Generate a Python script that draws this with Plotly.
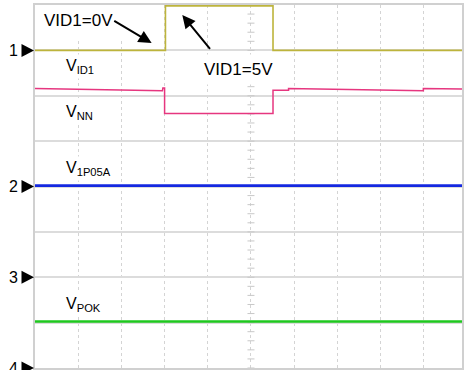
import plotly.graph_objects as go

# Screen units: 10 horizontal divisions, 8 vertical divisions (bottom = 0)
X_END = 9.885  # visible part of the 10-division screen
Y_DIVS = 8.0

# Channel reference markers (position in divisions)
channel_names = ["1", "2", "3", "4"]
channel_levels = [7.0, 4.0, 2.0, 0.0]

# VID1 control input (yellow)
vid_t = [0, 3.02, 3.02, 5.51, 5.51, X_END]
vid_v = [7.0, 7.0, 7.98, 7.98, 7.0, 7.0]

# V_NN rail (pink)
vnn_t = [0, 2.95, 2.96, 2.99, 3.0, 3.0, 5.51, 5.51, 5.87, 5.87, 8.99, 8.99, X_END]
vnn_v = [6.16, 6.11, 6.17, 6.17, 6.17, 5.61, 5.61, 6.12, 6.12, 6.16, 6.11, 6.16, 6.15]

# V_1P05A rail (blue)
v1p05_t = [0, X_END]
v1p05_v = [4.02, 4.02]

# V_POK (green)
vpok_t = [0, X_END]
vpok_v = [1.025, 1.025]

FONT = "Arial, Liberation Sans, sans-serif"


def px(d):
    """horizontal division -> paper fraction"""
    return d / X_END


fig = go.Figure()

# minor graticule ticks on the centre vertical line
tick_y = [k * 0.2 for k in range(0, 41)]
fig.add_trace(go.Scatter(
    x=[5.0] * len(tick_y), y=tick_y, mode="markers",
    marker=dict(symbol="line-ew", size=5, line=dict(color="#c8c8c8", width=1)),
    hoverinfo="skip", showlegend=False))

fig.add_trace(go.Scatter(x=vid_t, y=vid_v, mode="lines",
                         line=dict(color="#bdb43c", width=1.6), showlegend=False))
fig.add_trace(go.Scatter(x=vnn_t, y=vnn_v, mode="lines",
                         line=dict(color="#e6367f", width=1.5), showlegend=False))
fig.add_trace(go.Scatter(x=v1p05_t, y=v1p05_v, mode="lines",
                         line=dict(color="#1428e0", width=2.8), showlegend=False))
fig.add_trace(go.Scatter(x=vpok_t, y=vpok_v, mode="lines",
                         line=dict(color="#1ec81e", width=2.4), showlegend=False))

annotations = []
shapes = []
# channel ground markers at the left edge: number + pointer triangle
for name, lvl in zip(channel_names, channel_levels):
    annotations.append(dict(x=px(-0.5), y=lvl, xref="paper", yref="y", text=name,
                            showarrow=False, font=dict(family=FONT, size=16, color="black"),
                            xanchor="center", yanchor="middle"))
    shapes.append(dict(type="path", xref="paper", yref="paper",
                       xsizemode="pixel", ysizemode="pixel",
                       xanchor=0, yanchor=lvl / Y_DIVS,
                       path="M-13.5,-6.5 L-1,0 L-13.5,6.5 Z",
                       fillcolor="black", line=dict(width=0), layer="above"))

# signal labels
labels = [("V<sub>ID1</sub>", 0.645, 6.64),
          ("V<sub>NN</sub>", 0.645, 5.62),
          ("V<sub>1P05A</sub>", 0.645, 4.39),
          ("V<sub>POK</sub>", 0.645, 1.39)]
for txt, lx, ly in labels:
    annotations.append(dict(x=px(lx), y=ly, xref="paper", yref="y", text=txt, showarrow=False,
                            font=dict(family=FONT, size=16, color="black"),
                            xanchor="left", yanchor="middle", bgcolor="white", borderpad=2))

annotations.append(dict(x=px(1.01), y=7.65, xref="paper", yref="y", text="VID1=0V",
                        showarrow=False, font=dict(family=FONT, size=17, color="black"),
                        xanchor="center", yanchor="middle"))
annotations.append(dict(x=px(4.71), y=6.57, xref="paper", yref="y", text="VID1=5V",
                        showarrow=False, font=dict(family=FONT, size=17, color="black"),
                        xanchor="center", yanchor="middle", bgcolor="white", borderpad=5))

# pointer arrows
annotations.append(dict(x=2.70, y=7.16, ax=1.80, ay=7.67, xref="x", yref="y",
                        axref="x", ayref="y", text="", showarrow=True,
                        arrowhead=2, arrowsize=1.3, arrowwidth=2, arrowcolor="black"))
annotations.append(dict(x=3.41, y=7.78, ax=4.08, ay=7.0, xref="x", yref="y",
                        axref="x", ayref="y", text="", showarrow=True,
                        arrowhead=2, arrowsize=1.3, arrowwidth=2, arrowcolor="black"))

# blank panel behind the VID1=0V caption
shapes.append(dict(type="rect", xref="x", yref="y", x0=0.03, x1=2.21, y0=7.27, y1=8.0,
                   fillcolor="white", line=dict(width=0), layer="between"))

fig.update_layout(
    width=464, height=370,
    margin=dict(l=35, r=0, t=5, b=2),
    paper_bgcolor="white", plot_bgcolor="white",
    annotations=annotations, shapes=shapes,
    xaxis=dict(range=[0, X_END], dtick=1, tick0=0, showticklabels=False, ticks="",
               showgrid=True, gridcolor="#d4d4d4", griddash="dot", gridwidth=1,
               showline=True, linecolor="#d0d0d0", linewidth=2, mirror=True,
               zeroline=False, fixedrange=True),
    yaxis=dict(range=[0, Y_DIVS], dtick=1, tick0=0, showticklabels=False, ticks="",
               showgrid=True, gridcolor="#dcdcdc", gridwidth=1.5,
               showline=True, linecolor="#d0d0d0", linewidth=2, mirror=True,
               zeroline=False, fixedrange=True),
)

fig.write_html("out.html")
